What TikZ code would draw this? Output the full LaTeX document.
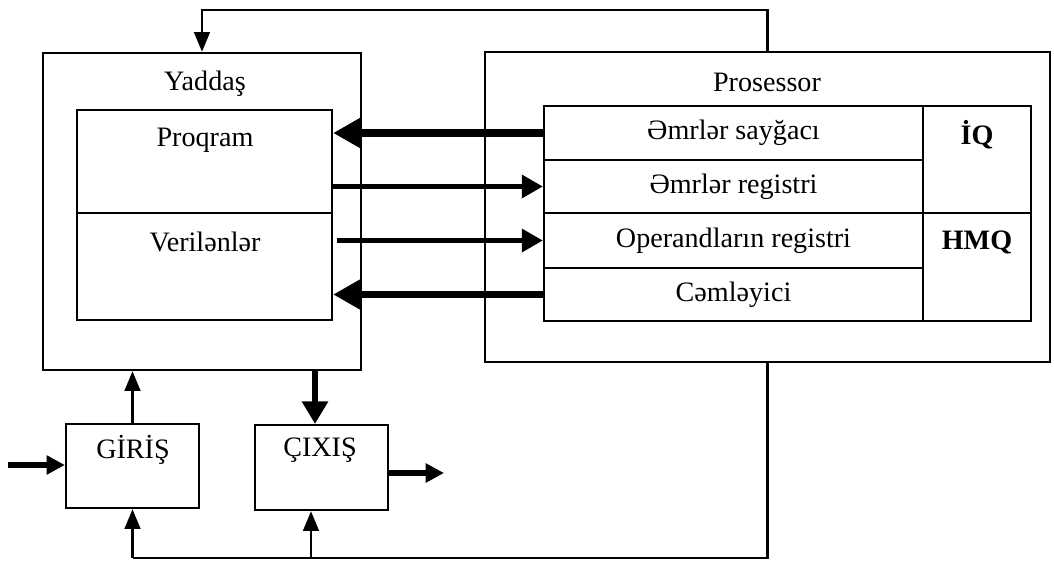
\documentclass[tikz,border=0pt]{standalone}
\usepackage{fontspec}
\setmainfont{Liberation Serif}
\usetikzlibrary{arrows.meta,fit}
\begin{document}
\begin{tikzpicture}[x=0.025cm,y=-0.025cm,
  box/.style={draw,line width=1.6pt,inner sep=0pt},
  txt/.style={font=\fontsize{20}{22}\selectfont,inner sep=0pt},
  btxt/.style={font=\fontsize{20}{22}\selectfont\bfseries,inner sep=0pt},
  conn/.style={line width=2pt},
  thinarr/.style={line width=2pt,-{Triangle[length=14pt,width=11pt]}},
  bigleft/.style={line width=5pt,-{Triangle[length=20pt,width=21pt]}},
  bigright/.style={line width=3.6pt,-{Triangle[length=15pt,width=16pt]}},
  midarr/.style={line width=3.6pt,-{Triangle[length=13pt,width=13pt]}}]
\useasboundingbox (0,0) rectangle (1054,561);
% Memory
\node[box,fit={(43,53) (361,370)}] (mem) {};
\node[txt] (memlbl) at (205,84) {Yaddaş};
\node[box,fit={(77,110) (332,213)}] (prog) {};
\node[txt] (proglbl) at (205,140) {Proqram};
\node[box,fit={(77,213) (332,320)}] (data) {};
\node[txt] (datalbl) at (205,242) {Verilənlər};
% Processor
\node[box,fit={(485,52) (1050,362)}] (proc) {};
\node[txt] (proclbl) at (767,82) {Prosessor};
\node[box,txt,fit={(544,106) (923,160)}] (r1) {};
\node[txt] (r1t) at (r1.center) {Əmrlər sayğacı};
\node[box,fit={(544,160) (923,213)}] (r2) {};
\node[txt] (r2t) at (r2.center) {Əmrlər registri};
\node[box,fit={(544,213) (923,268)}] (r3) {};
\node[txt] (r3t) at (r3.center) {Operandların registri};
\node[box,fit={(544,268) (923,321)}] (r4) {};
\node[txt] (r4t) at (r4.center) {Cəmləyici};
\node[box,fit={(923,106) (1031,213)}] (iq) {};
\node[btxt] (iqt) at (977,135) {İQ};
\node[box,fit={(923,213) (1031,321)}] (hmq) {};
\node[btxt] (hmqt) at (977,242) {HMQ};
% I/O
\node[box,fit={(66,424) (199,508)}] (giris) {};
\node[txt] (girist) at (133,450) {GİRİŞ};
\node[box,fit={(255,425) (388,510)}] (cixis) {};
\node[txt] (cixist) at (320,450) {ÇIXIŞ};
% coordinates
\coordinate (topbus) at (0,10);
\coordinate (botbus) at (0,558);
\coordinate (inl) at (8,465);
\coordinate (outr) at (444,473);
\coordinate (cx) at (315,0);
\coordinate (cxb) at (311,0);
% top feedback
\draw[thinarr] (proc.north) |- (mem.north |- topbus) -- (mem.north);
% bottom bus
\draw[conn] (proc.south) |- (giris.south |- botbus);
\draw[thinarr] (giris.south |- botbus) -- (giris.south);
\draw[thinarr] (cxb |- botbus) -- (cxb |- cixis.south);
% memory <-> processor
\draw[bigleft] (r1.west) -- (prog.east |- r1.west);
\draw[bigright] (prog.east |- r2.west) -- (r2.west);
\draw[bigright] ([xshift=4*0.025cm]data.east |- r3.west) -- (r3.west);
\draw[bigleft] (r4.west) -- (data.east |- r4.west);
% I/O arrows
\draw[thinarr] (giris.north) -- (mem.south -| giris.north);
\draw[midarr,-{Triangle[length=16pt,width=18pt]}] (mem.south -| cx) -- (cx |- cixis.north);
\draw[midarr] (inl) -- (giris.west |- inl);
\draw[midarr] (cixis.east |- outr) -- (outr);
\end{tikzpicture}
\end{document}
